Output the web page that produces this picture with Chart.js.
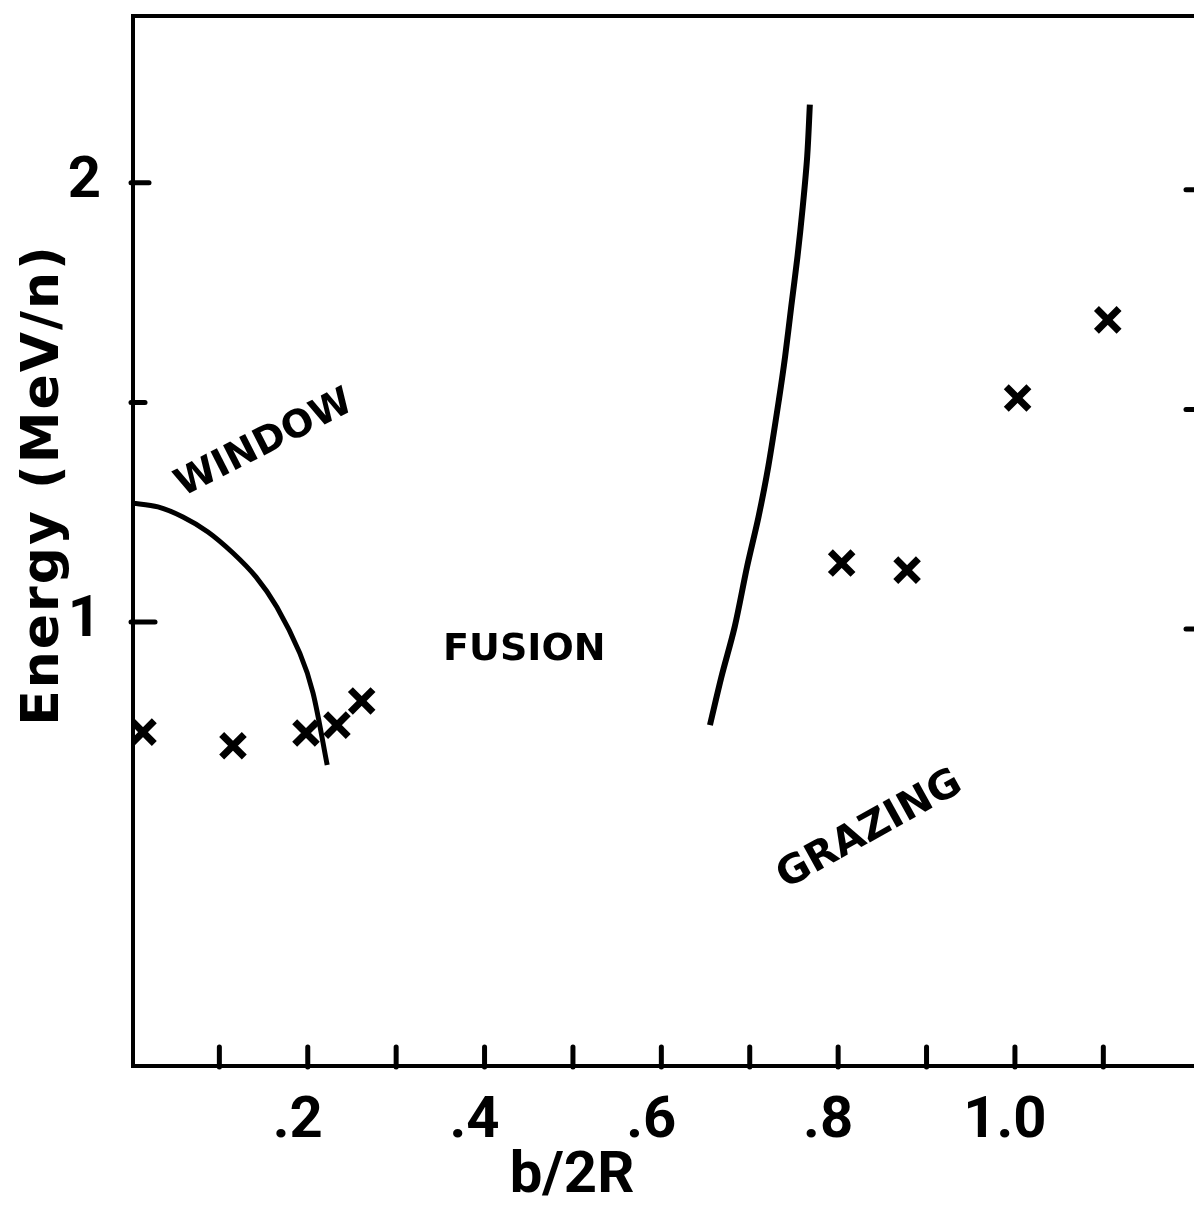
<!DOCTYPE html>
<html>
<head>
<meta charset="utf-8">
<title>Energy vs b/2R</title>
<script src="https://cdn.jsdelivr.net/npm/chart.js@4.4.1/dist/chart.umd.min.js"></script>
<style>
    html, body { margin: 0; padding: 0; background: #fff; overflow: hidden; }
    canvas { display: block; }
</style>
</head>
<body>
<canvas id="chart" width="1198" height="1214"></canvas>
<script>
// Measured points (b/2R, MeV/n)
const pointsX = [0.0136, 0.1154, 0.198, 0.233, 0.261, 0.804, 0.878, 1.003, 1.105];
const pointsY = [0.749, 0.718, 0.747, 0.765, 0.820, 1.134, 1.118, 1.510, 1.688];

// Window boundary
const windowX = [0.0, 0.0305, 0.0588, 0.0871, 0.1154, 0.1414, 0.165, 0.191, 0.206, 0.222];
const windowY = [1.271, 1.262, 1.239, 1.205, 1.157, 1.1025, 1.034, 0.929, 0.838, 0.674];

// Grazing boundary
const grazingX = [0.655, 0.668, 0.683, 0.697, 0.710, 0.721, 0.733, 0.740, 0.747, 0.754, 0.760, 0.765, 0.768];
const grazingY = [0.765, 0.875, 0.989, 1.126, 1.240, 1.354, 1.506, 1.604, 1.719, 1.832, 1.946, 2.060, 2.178];

// Ticks
const xTickValues = [0.1, 0.2, 0.3, 0.4, 0.5, 0.6, 0.7, 0.8, 0.9, 1.0, 1.1];
const xTickLabels = ['', '.2', '', '.4', '', '.6', '', '.8', '', '1.0', ''];
const yTickValues = [1, 1.5, 2];
const yTickLabels = ['1', '', '2'];

const xTitle = 'b/2R';
const yTitle = 'Energy (MeV/n)';

// Region labels, anchored in data coordinates
const regionText = ['WINDOW', 'FUSION', 'GRAZING'];
const regionX = [0.151, 0.445, 0.836];
const regionY = [1.405, 0.936, 0.525];

const toXY = (xs, ys) => xs.map((x, i) => ({ x: x, y: ys[i] }));

// no extra label padding round the plot area
const noPad = (scale) => {
    scale.paddingLeft = 0;
    scale.paddingRight = 0;
    scale.paddingTop = 0;
    scale.paddingBottom = 0;
};

// inward tick marks + free text
const framePlugin = {
    id: 'frame',
    afterDraw(chart) {
        const { ctx, chartArea } = chart;
        const xs = chart.scales.x;
        const ys = chart.scales.y;
        ctx.save();
        ctx.strokeStyle = '#000';
        ctx.lineCap = 'round';
        ctx.lineWidth = 5;

        xTickValues.forEach((v) => {
            const px = xs.getPixelForValue(v);
            ctx.beginPath();
            ctx.moveTo(px, chartArea.bottom + 1);
            ctx.lineTo(px, chartArea.bottom - 19);
            ctx.stroke();
        });

        const leftLen = { 1: 22, 1.5: 12, 2: 16 };
        yTickValues.forEach((v) => {
            const py = ys.getPixelForValue(v);
            ctx.beginPath();
            ctx.moveTo(chartArea.left - 2, py);
            ctx.lineTo(chartArea.left + leftLen[v], py);
            ctx.stroke();
            ctx.beginPath();
            ctx.moveTo(chartArea.right, py + 7);
            ctx.lineTo(chartArea.right - 12, py + 7);
            ctx.stroke();
        });

        ctx.fillStyle = '#000';
        ctx.textAlign = 'center';
        ctx.textBaseline = 'middle';

        const angles = [-27, 0, -29];
        const sizes = [38, 38, 40];
        regionText.forEach((t, i) => {
            ctx.save();
            ctx.translate(xs.getPixelForValue(regionX[i]), ys.getPixelForValue(regionY[i]));
            ctx.rotate(angles[i] * Math.PI / 180);
            ctx.font = `bold ${sizes[i]}px "DejaVu Sans"`;
            ctx.fillText(t, 0, 0);
            ctx.restore();
        });

        // axis titles
        ctx.font = 'bold 58px Roboto';
        ctx.textBaseline = 'alphabetic';
        ctx.fillText(xTitle, 572, 1192);

        ctx.save();
        ctx.translate(58, 485);
        ctx.rotate(-Math.PI / 2);
        ctx.font = 'bold 52px "DejaVu Sans"';
        ctx.letterSpacing = '2px';
        ctx.fillText(yTitle, 0, 0);
        ctx.restore();

        ctx.restore();
    }
};

new Chart(document.getElementById('chart'), {
    type: 'scatter',
    data: {
        datasets: [
            {
                data: toXY(pointsX, pointsY),
                pointStyle: 'crossRot',
                pointRadius: 16,
                pointBorderWidth: 7,
                borderWidth: 7,
                borderColor: '#000',
                backgroundColor: '#000'
            },
            {
                data: toXY(windowX, windowY),
                showLine: true,
                pointRadius: 0,
                borderColor: '#000',
                borderWidth: 5,
                tension: 0.3
            },
            {
                data: toXY(grazingX, grazingY),
                showLine: true,
                pointRadius: 0,
                borderColor: '#000',
                borderWidth: 6,
                tension: 0.3
            }
        ]
    },
    options: {
        responsive: false,
        animation: false,
        layout: { padding: 0, autoPadding: false },
        plugins: {
            legend: { display: false },
            tooltip: { enabled: false }
        },
        scales: {
            x: {
                type: 'linear',
                position: 'bottom',
                min: 0.0023,
                max: 1.2071,
                afterFit(scale) { scale.height = 148; noPad(scale); },
                afterBuildTicks(scale) {
                    scale.ticks = xTickValues.map((v) => ({ value: v }));
                },
                grid: { display: false },
                border: { display: true, color: '#000', width: 4 },
                ticks: {
                    autoSkip: false,
                    maxRotation: 0,
                    padding: 14,
                    labelOffset: -10,
                    color: '#000',
                    font: { family: 'Roboto', size: 58, weight: 'bold' },
                    callback: (value, index) => xTickLabels[index]
                }
            },
            x2: {
                type: 'linear',
                position: 'top',
                afterFit(scale) { scale.height = 16; noPad(scale); },
                grid: { display: false },
                border: { display: true, color: '#000', width: 4 },
                ticks: { display: false }
            },
            y: {
                type: 'linear',
                position: 'left',
                min: -0.0114,
                max: 2.38,
                afterFit(scale) { scale.width = 133; noPad(scale); },
                afterBuildTicks(scale) {
                    scale.ticks = yTickValues.map((v) => ({ value: v }));
                },
                grid: { display: false },
                border: { display: true, color: '#000', width: 4 },
                ticks: {
                    crossAlign: 'center',
                    padding: 24,
                    color: '#000',
                    font: { family: 'Roboto', size: 58, weight: 'bold' },
                    callback: (value, index) => yTickLabels[index]
                }
            }
        }
    },
    plugins: [framePlugin]
});
</script>
</body>
</html>
